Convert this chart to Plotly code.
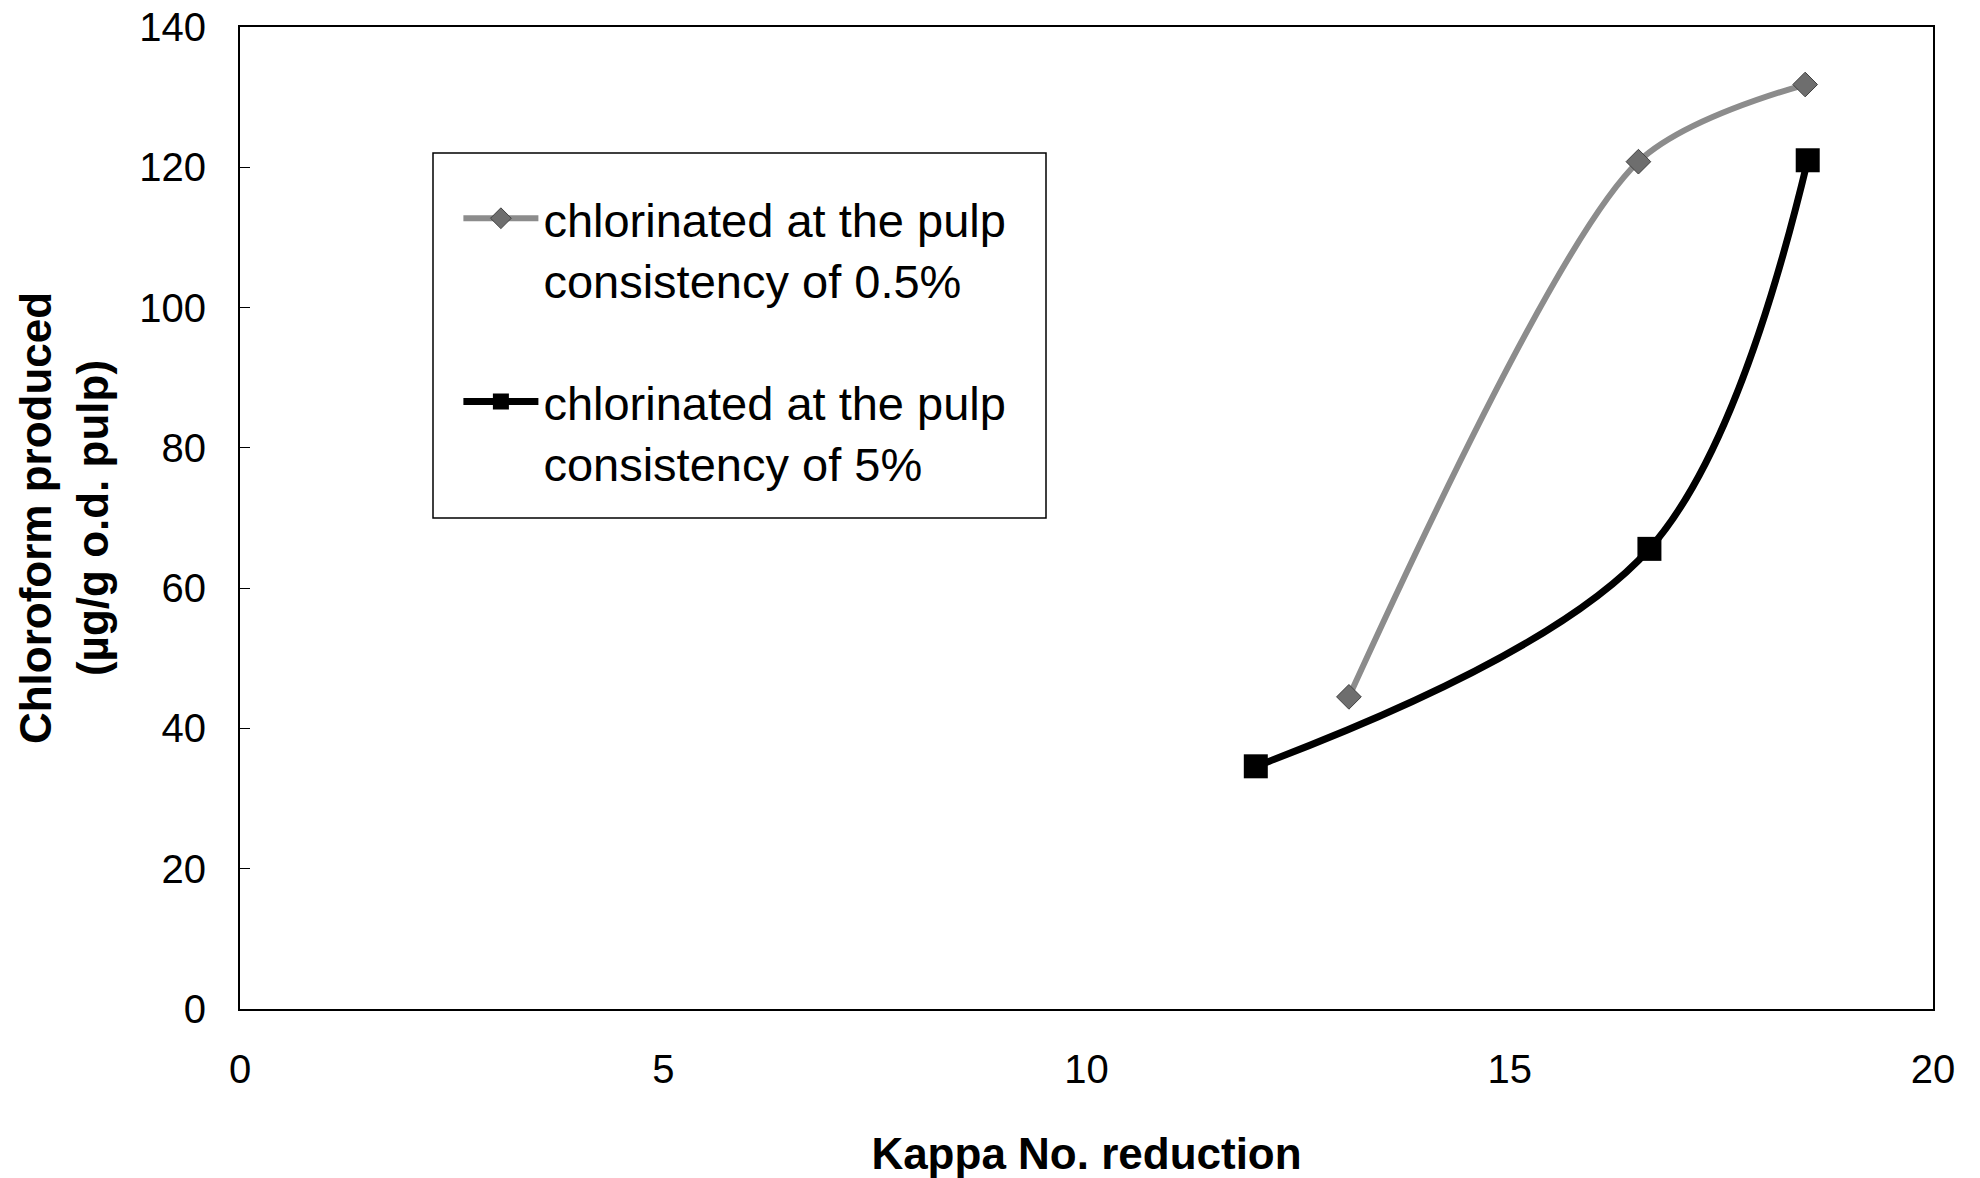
import plotly.graph_objects as go

# Data
x_low = [13.1, 16.52, 18.49]
y_low = [44.5, 120.8, 131.8]
x_high = [12.0, 16.65, 18.52]
y_high = [34.6, 65.6, 121.0]

name_low = "chlorinated at the pulp<br>consistency of 0.5%"
name_high = "chlorinated at the pulp<br>consistency of 5%"

x_ticks = [0, 5, 10, 15, 20]
y_ticks = [0, 20, 40, 60, 80, 100, 120, 140]

FONT = "Liberation Sans, Arial, sans-serif"

fig = go.Figure()
fig.add_trace(go.Scatter(
    x=x_low, y=y_low, name=name_low, mode="lines+markers",
    line=dict(color="#8c8c8c", width=6, shape="spline", smoothing=0.8),
    marker=dict(symbol="diamond", size=19, color="#6e6e6e",
                line=dict(color="#404040", width=1)),
    legendgroup="a",
))
fig.add_trace(go.Scatter(
    x=x_high, y=y_high, name=name_high, mode="lines+markers",
    line=dict(color="#000000", width=7, shape="spline", smoothing=1),
    marker=dict(symbol="square", size=24, color="#000000"),
    legendgroup="b",
))

fig.update_layout(
    width=1980, height=1178,
    margin=dict(l=240, r=47, t=27, b=169),
    paper_bgcolor="white", plot_bgcolor="white",
    font=dict(family=FONT, color="black", size=40),
    showlegend=True,
    legend=dict(
        x=0.129, y=0.843, xanchor="left", yanchor="top",
        bgcolor="rgba(0,0,0,0)", borderwidth=0,
        font=dict(size=47, family=FONT),
        traceorder="grouped", tracegroupgap=58,
        valign="top", itemwidth=75,
    ),
    shapes=[dict(type="rect", xref="paper", yref="paper",
                 x0=(433 - 240) / 1693, x1=(1046 - 240) / 1693,
                 y0=(1009 - 518) / 982, y1=(1009 - 153) / 982,
                 line=dict(color="black", width=1.5), fillcolor="rgba(0,0,0,0)")],
)

fig.update_xaxes(
    range=[0, 20], tickvals=x_ticks, ticktext=[str(v) for v in x_ticks],
    showgrid=False, zeroline=False, showline=True, mirror=True,
    linecolor="black", linewidth=2, ticks="", ticklabelstandoff=24,
    ticklabeloverflow="allow", automargin=False,
    tickfont=dict(size=40, family=FONT),
    title=dict(text="<b>Kappa No. reduction</b>", font=dict(size=44, family=FONT), standoff=48),
)
fig.update_yaxes(
    range=[0, 140], tickvals=y_ticks, ticktext=[str(v) for v in y_ticks],
    showgrid=False, zeroline=False, showline=True, mirror=True,
    linecolor="black", linewidth=2, ticks="inside", ticklen=10, tickcolor="black",
    ticklabelstandoff=24, ticklabeloverflow="allow", automargin=False,
    tickfont=dict(size=40, family=FONT),
    title=dict(text="<b>Chloroform produced<br>(µg/g o.d. pulp)</b>", font=dict(size=44, family=FONT), standoff=17),
)

fig.write_html("out.html", config={"displayModeBar": False},
               post_script="document.body.style.margin='0px';")
